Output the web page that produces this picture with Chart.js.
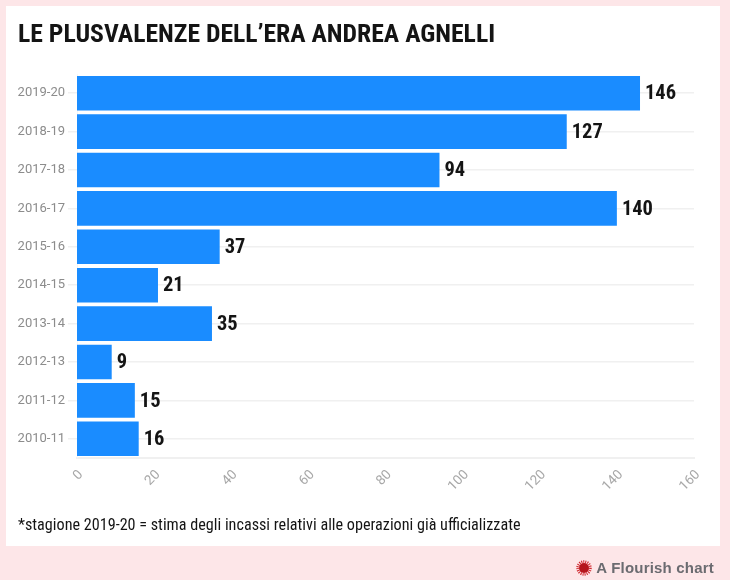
<!DOCTYPE html>
<html>
<head>
<meta charset="utf-8">
<script src="https://cdn.jsdelivr.net/npm/chart.js@4"></script>
<style>
  html, body { margin: 0; padding: 0; background: #fde6e8; overflow: hidden; }
  #wrap { position: relative; width: 730px; height: 580px; }
  #card { position: absolute; left: 6px; top: 6px; width: 714px; height: 540px; background: #fff; }
  #board { position: absolute; left: 0; top: 0; }
  .txt { position: absolute; font-family: Roboto, sans-serif; font-stretch: 75%; white-space: nowrap; color: #141414; }
  #title { left: 18px; top: 18px; font-size: 25.7px; line-height: 30px; font-weight: 700; }
  #note { left: 18px; top: 515px; font-size: 16.16px; line-height: 20px; }
  #credit { right: 16px; top: 560px; font: bold 15px/16px "Liberation Sans", Arial, sans-serif; letter-spacing: 0.2px; color: #6b6b70; white-space: nowrap; position: absolute; }
  #logo { position: absolute; left: 576px; top: 560px; }
</style>
</head>
<body>
<div id="wrap">
  <div id="card"></div>
  <canvas id="board" width="730" height="580"></canvas>
  <div class="txt" id="title">LE PLUSVALENZE DELL’ERA ANDREA AGNELLI</div>
  <div class="txt" id="note">*stagione 2019-20 = stima degli incassi relativi alle operazioni già ufficializzate</div>
  <svg id="logo" width="16" height="16" viewBox="0 0 32 32">
    <circle cx="16" cy="16" r="10" fill="#b5161c"/>
    <circle cx="16" cy="16" r="12.5" fill="none" stroke="#d0272e" stroke-width="6" stroke-dasharray="2 2"/>
  </svg>
  <div id="credit">A Flourish chart</div>
</div>
<script>
const seasons = ["2019-20", "2018-19", "2017-18", "2016-17", "2015-16", "2014-15", "2013-14", "2012-13", "2011-12", "2010-11"];
const plusvalenze = [146, 127, 94, 140, 37, 21, 35, 9, 15, 16];
const xTicks = [0, 20, 40, 60, 80, 100, 120, 140, 160];

// numbers at the end of every bar
const barLabels = {
  id: "barLabels",
  afterDatasetsDraw(chart) {
    const ctx = chart.ctx;
    const bars = chart.getDatasetMeta(0).data;
    ctx.save();
    ctx.font = "bold condensed 20.5px Roboto";
    ctx.fontStretch = "condensed";
    ctx.fillStyle = "#141414";
    ctx.textBaseline = "middle";
    for (let i = 0; i < bars.length; i++) {
      ctx.fillText(plusvalenze[i], bars[i].x + 5, bars[i].y + 1);
    }
    ctx.restore();
  },
};

new Chart(document.getElementById("board"), {
  type: "bar",
  data: {
    labels: seasons,
    datasets: [
      {
        data: plusvalenze,
        backgroundColor: "#1a8cff",
        borderWidth: 0,
        barPercentage: 0.9,
        categoryPercentage: 1,
      },
    ],
  },
  plugins: [barLabels],
  options: {
    indexAxis: "y",
    responsive: false,
    animation: false,
    devicePixelRatio: 1,
    layout: { padding: { top: 74, right: 36, left: 0, bottom: 0 } },
    plugins: { legend: { display: false }, tooltip: { enabled: false } },
    scales: {
      x: {
        min: 0,
        max: 160,
        afterBuildTicks(axis) {
          axis.ticks = xTicks.map((v) => ({ value: v }));
        },
        afterFit(axis) {
          axis.height = 122;
        },
        grid: { display: false, drawTicks: true, tickLength: 6, tickColor: "#f0f0f0" },
        border: { color: "#f0f0f0", width: 2 },
        ticks: {
          color: "#a8a8a8",
          font: { family: "Roboto", size: 13.5, style: "normal condensed" },
          maxRotation: 45,
          minRotation: 45,
          padding: 3,
          labelOffset: 4,
        },
      },
      y: {
        afterFit(axis) {
          axis.width = 77;
        },
        grid: { color: "#f0f0f0", lineWidth: 1.5, tickLength: 9, tickColor: "#f0f0f0", offset: false },
        border: { color: "#f6f6f6", width: 1 },
        ticks: {
          color: "#8c8c8c",
          font: { family: "Roboto", size: 13, style: "normal condensed" },
          padding: 3,
        },
      },
    },
  },
});
</script>
</body>
</html>
